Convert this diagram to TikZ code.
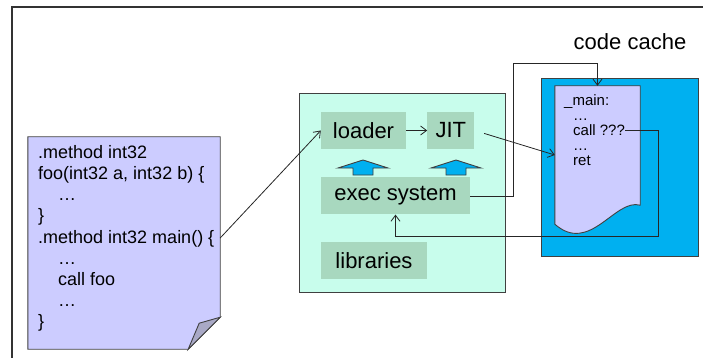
\documentclass[tikz,border=0pt]{standalone}
\usepackage{fontspec}
\setmainfont{Liberation Sans}
\usetikzlibrary{positioning,arrows.meta}
\definecolor{DocFill}{HTML}{CCCCFF}
\definecolor{FoldFill}{HTML}{A9A9C6}
\definecolor{VmFill}{HTML}{C8FDEC}
\definecolor{PartFill}{HTML}{A8D8BF}
\definecolor{CacheFill}{HTML}{00B0F0}

\begin{document}
\begin{tikzpicture}[x=1pt,y=-1pt,>={Straight Barb[length=6pt,width=9pt]},node distance=21pt]
  \tikzstyle{frame}=[draw=black!80,line width=1.6pt]
  \tikzstyle{outline}=[draw=black!75,line width=0.9pt]
  \tikzstyle{link}=[->,draw=black!85,line width=0.8pt]
  \tikzstyle{part}=[fill=PartFill,minimum height=37pt,inner sep=0pt,
    font=\fontsize{22}{26}\selectfont]
  \tikzstyle{codetext}=[anchor=base west,inner sep=0pt,
    font=\fontsize{15}{15}\selectfont]
  \useasboundingbox (0,0) rectangle (703,358);
  % slide frame
  \draw[frame] (12,358) -- (12,7) -- (703,7);
  % source file
  \node[minimum width=192pt,minimum height=212pt,inner sep=0pt] (src) at (124,243) {};
  \draw[outline,fill=DocFill] (src.north west) -- (src.north east)
    -- ([yshift=32pt]src.south east) -- ([xshift=-32pt]src.south east)
    -- (src.south west) -- cycle;
  \draw[outline,fill=FoldFill] ([yshift=32pt]src.south east)
    -- ([xshift=-32pt]src.south east) -- ([xshift=-21pt,yshift=26pt]src.south east) -- cycle;
  \node[anchor=north west,align=left,inner sep=0pt,
    font=\fontsize{18}{21.2}\selectfont] (srctext) at (38,145)
    {.method int32\\foo(int32 a, int32 b) \{\\\hspace*{20pt}…\\\}\\.method int32 main() \{\\
     \hspace*{20pt}…\\\hspace*{20pt}call foo\\\hspace*{20pt}…\\\}};
  % virtual machine
  \node[outline,fill=VmFill,minimum width=206pt,minimum height=199pt] (vm) at (402,192.5) {};
  \node[part,minimum width=85pt] (loader) at (363.5,130.5) {loader};
  \node[part,minimum width=47pt,right=21pt of loader] (jit) {JIT};
  \node[part,minimum width=149pt,below=28pt of loader.south west,anchor=north west] (exec) {exec system};
  \node[part,minimum width=106pt,below=27pt of exec.south west,anchor=north west] (libs) {libraries};
  \foreach \x in {363,456}
    \draw[outline,fill=CacheFill] (\x-10,175) -- (\x+10,175) -- (\x+10,168) -- (\x+25,168)
      -- (\x,160) -- (\x-25,168) -- (\x-10,168) -- cycle;
  % code cache
  \node[outline,fill=CacheFill,minimum width=157pt,minimum height=178pt] (cache) at (619.5,167) {};
  \node[font=\fontsize{22}{26}\selectfont] (cachelabel) at (630,42) {code cache};
  \node[minimum width=85pt,minimum height=138pt,inner sep=0pt] (cdoc) at (597.5,155) {};
  \draw[outline,fill=DocFill] (cdoc.north west) -- (cdoc.north east)
    -- ([yshift=19pt]cdoc.south east) .. controls (615,198) and (590,255) .. (cdoc.south west) -- cycle;
  \node[codetext] (cm1) at (564,105.5) {\_main:};
  \node[codetext] (cm2) at (573,120.5) {…};
  \node[codetext] (callq) at (573,135.5) {call ???};
  \node[codetext] (cm4) at (573,150.5) {…};
  \node[codetext] (cm5) at (573,165.5) {ret};
  % connectors
  \coordinate (uphook) at (513,63);
  \coordinate (backhook) at (658,236);
  \draw[link] ([yshift=5pt]src.east) -- (loader.west);
  \draw[link] (loader) -- (jit);
  \draw[link,shorten <=10pt] (jit.east) -- (cdoc.west);
  \draw[link] (exec.east) -| (uphook) -| (cdoc.north);
  \draw[link] (callq.east) -| (backhook) -| (exec.south);
\end{tikzpicture}
\end{document}
